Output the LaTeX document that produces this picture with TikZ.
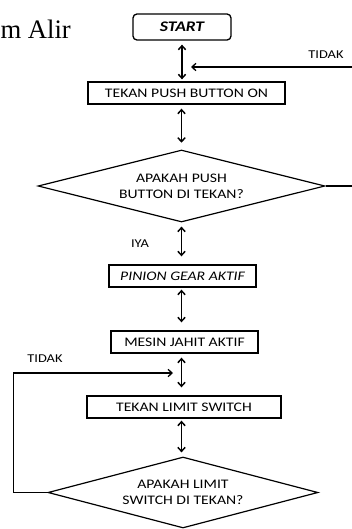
\documentclass[tikz,border=0pt]{standalone}
\usepackage{fontspec}
\setmainfont{Carlito}[FakeStretch=1.2]
\newfontfamily\titlefont{Liberation Serif}
\usetikzlibrary{arrows.meta,shapes.geometric}

\tikzset{every picture/.style={line width=0.75pt}}
\tikzset{
  procbox/.style={draw, line width=1pt, inner sep=0pt, minimum height=16.5pt, font=\fontsize{9.8}{11}\selectfont},
  decbox/.style={draw, diamond, shape aspect=4, line width=0.9pt, inner sep=0pt, align=center, font=\fontsize{9.8}{12.2}\selectfont},
  flowlbl/.style={inner sep=0.75pt, font=\fontsize{9}{10}\selectfont},
  barb/.tip={Straight Barb[length=3pt,width=5.5pt]},
  dblarrow/.style={barb-barb, line width=1.1pt},
  backline/.style={-barb, line width=1pt},
}

\begin{document}
\begin{tikzpicture}[x=0.75pt,y=0.75pt,yscale=-1,xscale=1]
    \useasboundingbox (0,0) rectangle (351,529);

    % Text Node
    \draw (0,38) node [anchor=base west][inner sep=0pt] (title) {\titlefont\fontsize{20}{24}\selectfont m Alir};

    %Shape: Rounded Rectangle
    \draw (182,27) node [procbox, rounded corners=3pt, minimum width=73.5pt, minimum height=19.5pt] (start) {\fontsize{11}{12}\selectfont\bfseries\itshape START};
    %Shape: Rectangle
    \draw (186.5,93) node [procbox, minimum width=147.75pt] (push) {TEKAN PUSH BUTTON ON};
    %Shape: Diamond
    \draw (181.5,186) node [decbox, minimum width=215.25pt, minimum height=54pt] (cekpush) {APAKAH PUSH\\BUTTON DI TEKAN?};
    %Shape: Rectangle
    \draw (182.5,276) node [procbox, minimum width=110.25pt] (pinion) {\itshape PINION GEAR AKTIF};
    %Shape: Rectangle
    \draw (184.5,342) node [procbox, minimum width=110.25pt] (mesin) {MESIN JAHIT AKTIF};
    %Shape: Rectangle
    \draw (184,407) node [procbox, minimum width=145.5pt] (limit) {TEKAN LIMIT SWITCH};
    %Shape: Diamond
    \draw (183,492.5) node [decbox, minimum width=202.5pt, minimum height=53.25pt] (ceklimit) {APAKAH LIMIT\\SWITCH DI TEKAN?};

    % Text Node
    \draw (326,55) node [flowlbl] (tidaka) {TIDAK};
    % Text Node
    \draw (140,244) node [flowlbl] (iya) {IYA};
    % Text Node
    \draw (45,359) node [flowlbl] (tidakb) {TIDAK};

    \coordinate (backa) at (191,67);
    \coordinate (backb) at (173,373);

    %Straight Lines
    \draw [dblarrow, shorten <=3pt, shorten >=1.5pt] (start.south) -- (start.south |- push.north);
    \draw [dblarrow, shorten <=3pt, shorten >=5pt] (cekpush.north |- push.south) -- (cekpush.north);
    \draw [dblarrow, shorten <=3pt, shorten >=6pt] (cekpush.south) -- (cekpush.south |- pinion.north);
    \draw [dblarrow, shorten <=1.5pt, shorten >=6pt] (pinion.south -| cekpush.south) -- (cekpush.south |- mesin.north);
    \draw [dblarrow, shorten <=3pt, shorten >=6pt] (mesin.south -| cekpush.south) -- (cekpush.south |- limit.north);
    \draw [dblarrow, shorten <=1.5pt, shorten >=3pt] (limit.south -| cekpush.south) -- (cekpush.south |- ceklimit.north);

    %Straight Lines
    \draw [backline] (cekpush.east) -- ++(29,0) |- (backa);
    \draw [backline] (ceklimit.west) -- ++(-34,0) |- (backb);

\end{tikzpicture}
\end{document}
